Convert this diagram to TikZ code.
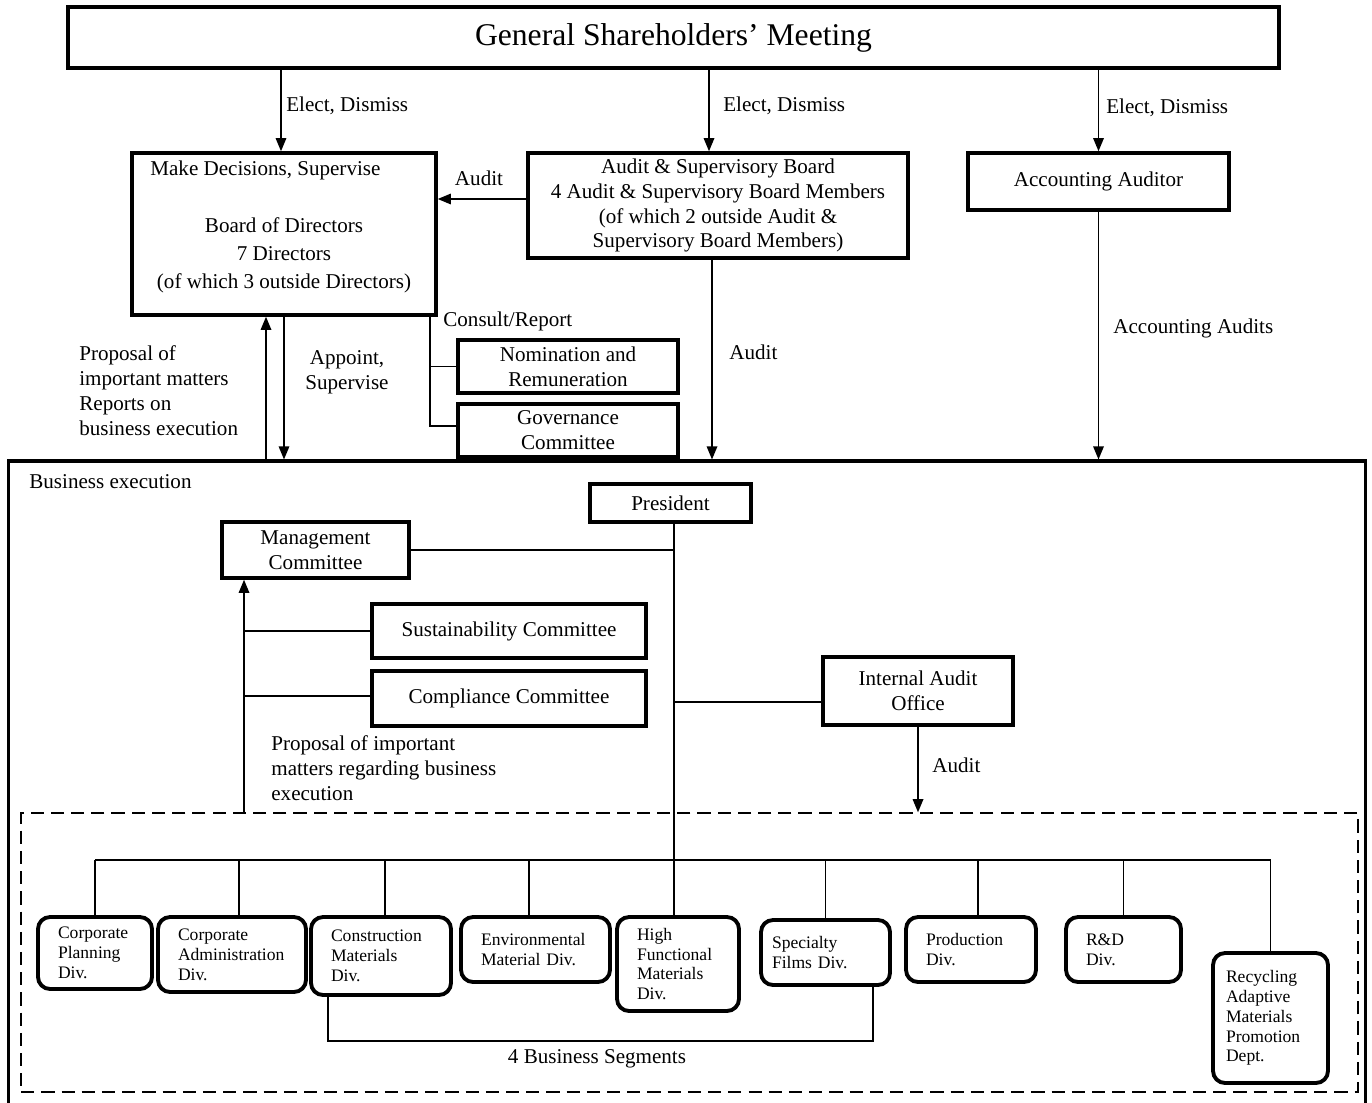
\documentclass[tikz,border=0pt]{standalone}
\usepackage{fontspec}
\setmainfont{Liberation Serif}
\usetikzlibrary{positioning, arrows.meta, calc}
\definecolor{ink}{RGB}{0,0,0}

\begin{document}
\begin{tikzpicture}[
    x=0.02cm, y=-0.02cm,
    every node/.style={text=ink, font=\fontsize{12}{14.2}\selectfont},
    box/.style={draw=ink, line width=2pt, inner sep=0pt, align=center},
    divbox/.style={draw=ink, line width=2.2pt, rounded corners=0.24cm,
        inner ysep=0pt, inner xsep=0.4cm, align=left,
        font=\fontsize{10}{11.3}\selectfont},
    link/.style={draw=ink, line width=0.9pt},
    arr/.style={link, -{Triangle[length=7.5pt, width=6pt]}},
    lbl/.style={anchor=west, align=left, inner sep=0pt},
]
% Canvas: x in [0, 1372], y in [0, 1102] (y grows downward)
\useasboundingbox (0,0) rectangle (1372,1102);

% --- Governance bodies (top) ---
\node[box, line width=2.2pt, minimum width=24.22cm, minimum height=1.22cm,
      font=\fontsize{18}{22}\selectfont] (gsm) at (673.5,37.5)
      {General Shareholders’ Meeting};

\node[box, minimum width=6.08cm, minimum height=3.24cm] (board) at (284,234) {};
\node[lbl] (boardtop) at (150,170) {Make Decisions, Supervise};
\node[align=center, font=\fontsize{12}{16}\selectfont] (boardtxt) at (284,255)
    {Board of Directors\\7 Directors\\(of which 3 outside Directors)};

\node[box, minimum width=7.6cm, minimum height=2.1cm] (asb) at (718,205.5)
    {Audit \& Supervisory Board\\4 Audit \& Supervisory Board Members\\(of which 2 outside Audit \&\\Supervisory Board Members)};
\node[box, minimum width=5.22cm, minimum height=1.14cm] (acc) at (1098.5,181.5)
    {Accounting Auditor};

\node[box, minimum width=4.4cm, minimum height=1.06cm] (nom) at (568,366.5)
    {Nomination and\\Remuneration};
\node[box, minimum width=4.4cm, minimum height=1.06cm] (gov) at (568,430.5)
    {Governance\\Committee};

% --- Elect / dismiss ---
\draw[arr] ([xshift=-0.06cm]board.north |- gsm.south) -- ([xshift=-0.06cm]board.north);
\draw[arr] ([xshift=-0.18cm]asb.north |- gsm.south) -- ([xshift=-0.18cm]asb.north);
\draw[arr] (acc.north |- gsm.south) -- (acc.north);
\node[lbl] (ed1) at (286,106) {Elect, Dismiss};
\node[lbl] (ed2) at (723,106) {Elect, Dismiss};
\node[lbl] (ed3) at (1106,108) {Elect, Dismiss};

\draw[arr] ([yshift=0.13cm]asb.west) -- ([yshift=0.13cm]board.east |- asb.west);
\node (auditA) at (479,178) {Audit};

% --- Business execution frame ---
\node[draw=ink, line width=1.8pt, inner sep=0pt, minimum width=27.16cm,
      minimum height=13.18cm] (exec) at (687,790.5) {};
\node[lbl] (execlbl) at (29,482) {Business execution};

% board <-> execution
\draw[arr] ([xshift=-0.36cm]board.south |- exec.north) -- ([xshift=-0.36cm]board.south);
\draw[arr] (board.south) -- (board.south |- exec.north);
\node[lbl] (propA) at (79,390.5)
    {Proposal of\\important matters\\Reports on\\business execution};
\node[align=center] (appoint) at (347,372.5) {Appoint,\\Supervise};

% consult / report
\coordinate (cons) at ([xshift=-0.16cm]board.south east);
\draw[link] (cons) |- ([yshift=0.09cm]gov.west);
\draw[link] (cons |- nom.west) -- (nom.west);
\node[lbl] (consult) at (443,321) {Consult/Report};

% audits into execution
\draw[arr] ([xshift=-0.12cm]asb.south) -- ([xshift=-0.12cm]asb.south |- exec.north);
\node[lbl] (auditB) at (729,352) {Audit};
\draw[arr] (acc.south) -- (acc.south |- exec.north);
\node[lbl] (accaud) at (1113,328) {Accounting Audits};

% --- Execution side ---
\node[box, minimum width=3.22cm, minimum height=0.76cm] (pres) at (670.5,503) {President};
\node[box, minimum width=3.74cm, minimum height=1.12cm] (mc) at (315.5,550)
    {Management\\Committee};
\node[box, minimum width=5.48cm, minimum height=1.08cm] (sus) at (509,631)
    {Sustainability Committee};
\node[box, minimum width=5.48cm, minimum height=1.1cm] (com) at (509,698.5)
    {Compliance Committee};
\node[box, minimum width=3.8cm, minimum height=1.36cm] (iao) at (918,691)
    {Internal Audit\\Office};

\node[draw=ink, line width=0.8pt, dash pattern=on 7.5pt off 4pt, inner sep=0pt,
      minimum width=26.74cm, minimum height=5.58cm] (seg) at (689.5,952.5) {};

% president spine
\coordinate (spine) at ([xshift=0.07cm]pres.south);
\coordinate (bar) at (674,860);
\draw[link] (spine) -- (bar);
\draw[link] (mc.east) -- (mc.east -| spine);
\draw[link] ([yshift=-0.22cm]iao.west) -- ([yshift=-0.22cm]iao.west -| spine);
\draw[arr] (iao.south) -- (iao.south |- seg.north);
\node[lbl] (auditC) at (932,765) {Audit};

% proposals to management committee
\coordinate (mcin) at ([xshift=-1.43cm]mc.south);
\draw[arr] (mcin |- seg.north) -- (mcin);
\draw[link] (sus.west) -- (sus.west -| mcin);
\draw[link] ([yshift=0.05cm]com.west) -- ([yshift=0.05cm]com.west -| mcin);
\node[lbl] (propB) at (271,768)
    {Proposal of important\\matters regarding business\\execution};

% --- Divisions ---
\node[divbox, text width=1.48cm, minimum height=1.44cm] (cpd) at (95,953)
    {Corporate\\Planning\\Div.};
\node[divbox, text width=2.16cm, minimum height=1.5cm] (cad) at (232,954.5)
    {Corporate\\Administration\\Div.};
\node[divbox, text width=2.0cm, minimum height=1.56cm] (cmd) at (381,956)
    {Construction\\Materials\\Div.};
\node[divbox, text width=2.18cm, minimum height=1.3cm] (emd) at (535.5,949.5)
    {Environmental\\Material Div.};
\node[divbox, text width=1.64cm, minimum height=1.88cm] (hfm) at (678,964)
    {High\\Functional\\Materials\\Div.};
\node[divbox, inner xsep=0.22cm, text width=2.14cm, minimum height=1.3cm] (sfd) at (825.5,952.5)
    {Specialty\\Films Div.};
\node[divbox, text width=1.8cm, minimum height=1.3cm] (prd) at (971,949.5)
    {Production\\Div.};
\node[divbox, text width=1.5cm, minimum height=1.3cm] (rdd) at (1123.5,949.5)
    {R\&D\\Div.};
\node[divbox, inner xsep=0.26cm, text width=1.78cm, minimum height=2.6cm] (rec) at (1270.5,1018)
    {Recycling\\Adaptive\\Materials\\Promotion\\Dept.};

\draw[link] (cpd.north |- bar) -- (rec.north |- bar);
\foreach \d/\dx in {cpd/0, cad/0.14, cmd/0.08, emd/-0.13, hfm/-0.08,
                    sfd/0, prd/0.14, rdd/0, rec/0} {
    \draw[link] ([xshift=\dx cm]\d.north |- bar) -- ([xshift=\dx cm]\d.north);
}

% business segments bracket
\draw[link] ([xshift=-1.06cm]cmd.south) -- ++(0,44) -| ([xshift=0.95cm]sfd.south);
\node (segs) at (597,1059) {4 Business Segments};

\end{tikzpicture}
\end{document}
